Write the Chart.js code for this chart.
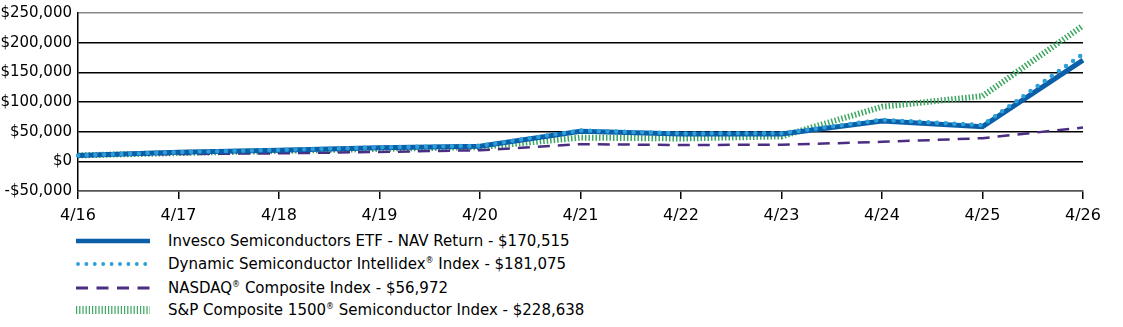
<!DOCTYPE html>
<html>
<head>
<meta charset="utf-8">
<script src="https://cdn.jsdelivr.net/npm/chart.js@4.4.1/dist/chart.umd.min.js"></script>
<style>
  html, body { margin: 0; padding: 0; background: #fff; }
  body { width: 1123px; height: 327px; position: relative; overflow: hidden; font-family: "DejaVu Sans", sans-serif; }
  #wrap { position: absolute; left: 0; top: -2px; width: 1123px; height: 226px; }
  .lg { position: absolute; left: 0; height: 23px; width: 800px; }
  .lg svg { position: absolute; left: 76px; top: 0; }
  .lg span { position: absolute; left: 168px; top: 2px; font-size: 15px; color: #000; white-space: nowrap; line-height: 19px; }
  sup { font-size: 8px; vertical-align: 6px; line-height: 0; }
</style>
</head>
<body>
<div id="wrap"><canvas id="c"></canvas></div>
<div id="legend"></div>
<script>
const categories = ["4/16","4/17","4/18","4/19","4/20","4/21","4/22","4/23","4/24","4/25","4/26"];
const invesco  = [10000, 15300, 18800, 23000, 25500, 50500, 46000, 46000, 68000, 58500, 170515];
const dynamic  = [10000, 15600, 19300, 23500, 26200, 52000, 47000, 47500, 70000, 61000, 181075];
const nasdaq   = [10000, 12300, 13500, 15800, 18700, 29000, 27500, 28000, 32800, 39000, 56972];
const sp1500   = [10000, 14000, 17500, 21000, 24000, 40000, 38500, 42000, 92000, 110000, 228638];
const seriesNames = [
  "Invesco Semiconductors ETF - NAV Return - $170,515",
  "Dynamic Semiconductor Intellidex<sup>®</sup> Index - $181,075",
  "NASDAQ<sup>®</sup> Composite Index - $56,972",
  "S&amp;P Composite 1500<sup>®</sup> Semiconductor Index - $228,638"
];
const yMin = -50000, yMax = 250000, yStep = 50000;

const C_INV = '#0b5ea8', C_DYN = '#2a9fd8', C_NAS = '#4b2e83', C_SP = '#3aa65f';

const ctx = document.getElementById('c');
new Chart(ctx, {
  type: 'line',
  data: {
    labels: categories,
    datasets: [
      { data: sp1500, borderColor: C_SP, borderWidth: 6, borderDash: [1.5, 2], borderCapStyle: 'butt', order: 4 },
      { data: nasdaq, borderColor: C_NAS, borderWidth: 2.5, borderDash: [12, 8], order: 3 },
      { data: invesco, borderColor: C_INV, borderWidth: 5, order: 2 },
      { data: dynamic, borderColor: C_DYN, borderWidth: 4.5, borderDash: [0, 8.7], borderCapStyle: 'round', order: 1 }
    ]
  },
  options: {
    responsive: true,
    maintainAspectRatio: false,
    animation: false,
    elements: { point: { radius: 0 }, line: { tension: 0, fill: false } },
    layout: { padding: { top: 11, right: 40, left: 0, bottom: 0 } },
    plugins: { legend: { display: false }, tooltip: { enabled: false } },
    scales: {
      x: {
        type: 'category',
        offset: false,
        grid: { drawOnChartArea: false, drawTicks: true, tickLength: 8, color: '#000', lineWidth: 1.5 },
        border: { display: true, color: '#555', width: 1.5 },
        ticks: { color: '#000', font: { family: 'DejaVu Sans', size: 16 }, padding: 7, maxRotation: 0, autoSkip: false },
        afterFit: (s) => { s.height = 33; }
      },
      y: {
        min: yMin, max: yMax,
        ticks: {
          stepSize: yStep, color: '#000', padding: 6,
          font: { family: 'DejaVu Sans', size: 15 },
          callback: (v) => (v < 0 ? '-$' : '$') + Math.abs(v).toLocaleString('en-US')
        },
        grid: {
          drawTicks: false,
          color: (c) => (c.tick && c.tick.value === yMax) ? '#888' : (c.tick && c.tick.value === yMin ? '#555' : '#000'),
          lineWidth: 1.5
        },
        border: { display: true, color: '#000', width: 1.5 },
        afterFit: (s) => { s.width = 78; }
      }
    }
  }
});

// HTML legend
const legend = document.getElementById('legend');
const rowTops = [230, 253, 277, 299];
const samples = [
  `<line x1="0" y1="11" x2="74" y2="11" stroke="${C_INV}" stroke-width="4.5"/>`,
  `<line x1="2" y1="11" x2="74" y2="11" stroke="${C_DYN}" stroke-width="3.8" stroke-linecap="round" stroke-dasharray="0 8.4"/>`,
  `<line x1="0" y1="11" x2="74" y2="11" stroke="${C_NAS}" stroke-width="2.8" stroke-dasharray="12 8.5"/>`,
  `<line x1="0" y1="11" x2="74" y2="11" stroke="${C_SP}" stroke-width="8" stroke-dasharray="1.2 2"/>`
];
seriesNames.forEach((n, i) => {
  const d = document.createElement('div');
  d.className = 'lg';
  d.style.top = rowTops[i] + 'px';
  d.innerHTML = `<svg width="76" height="22">${samples[i]}</svg><span>${n}</span>`;
  legend.appendChild(d);
});
</script>
</body>
</html>
